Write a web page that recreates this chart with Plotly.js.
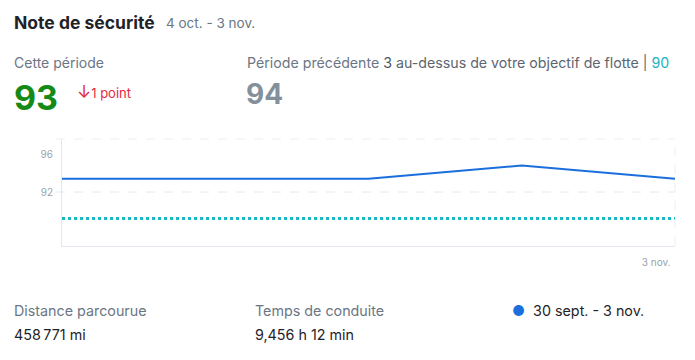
<!DOCTYPE html>
<html><head><meta charset="utf-8">
<script src="https://cdn.plot.ly/plotly-3.0.1.min.js"></script>
<style>html,body{margin:0;padding:0;background:#fff;}#chart{width:695px;height:360px;}</style>
</head><body><div id="chart"></div>
<script>
const dates = ['30 sept.', '7 oct.', '14 oct.', '21 oct.', '3 nov.'];
const scores = [93.4, 93.4, 93.4, 94.8, 93.4];
const goal = [89.2, 89.2, 89.2, 89.2, 89.2];
const yTicks = [92, 96];
const xTickShown = ['3 nov.'];

const F = 'Inter, Roboto, "Noto Sans", sans-serif';
const idx = dates.map((d, i) => i);

const traces = [
  {x: idx, y: goal, mode: 'lines', line: {color: '#19b9c6', width: 3, dash: 'dot'}, hoverinfo: 'skip', showlegend: false},
  {x: idx, y: scores, mode: 'lines', line: {color: '#1a6fdc', width: 2}, showlegend: false}
];

const ann = (x, y, text, size, color, extra) => Object.assign({
  xref: 'paper', yref: 'paper', x: x, y: y, text: text, showarrow: false,
  xanchor: 'left', yanchor: 'middle', font: {family: F, size: size, color: color}
}, extra || {});

// paper coords helpers (plot area: x 62..675, y 139..246 px)
const L = 62, R = 675, T = 139, B = 246;
const px = v => (v - 2 - L) / (R - L);
const py = v => (B - v) / (B - T);
const gx = -6 / (R - L);

const layout = {
  width: 695, height: 360,
  margin: {l: L, r: 695 - R, t: T, b: 360 - B},
  paper_bgcolor: '#fff', plot_bgcolor: '#fff',
  font: {family: F},
  xaxis: {
    range: [0, dates.length - 1], tickmode: 'array',
    tickvals: [dates.length - 1], ticktext: xTickShown,
    ticklabelposition: 'outside left', ticklabelstandoff: 7, ticklabelshift: -4,
    showgrid: false, zeroline: false, showline: true, linecolor: '#e3e6ec', linewidth: 1,
    ticks: '', tickfont: {size: 10, color: '#9aa3ae'}, fixedrange: true
  },
  yaxis: {
    range: [86.3, 97.6], tickmode: 'array', tickvals: yTicks,
    ticktext: yTicks.map(String), ticklabelstandoff: 6,
    showgrid: false, zeroline: false, showline: true, linecolor: '#e3e6ec', linewidth: 1,
    ticks: '', tickfont: {size: 10, color: '#9aa3ae'}, fixedrange: true
  },
  shapes: [
    {type: 'line', xref: 'paper', yref: 'y', x0: gx, x1: 1, y0: 92, y1: 92, line: {color: '#e6e8ec', width: 1, dash: 'dash'}},
    {type: 'line', xref: 'paper', yref: 'paper', x0: gx, x1: 1, y0: 1, y1: 1, line: {color: '#eceef1', width: 1, dash: 'dash'}},
    {type: 'line', xref: 'paper', yref: 'paper', x0: 1, x1: 1, y0: 0, y1: 1, line: {color: '#eceef1', width: 1, dash: 'dash'}}
  ],
  annotations: [
    ann(px(14), py(22), '<b>Note de sécurité</b>', 17.5, '#1f2328'),
    ann(px(166), py(23), '4 oct. - 3 nov.', 13.5, '#6b7684'),
    ann(px(14), py(62), 'Cette période', 14, '#6b7684'),
    ann(px(14), py(97), '<b>93</b>', 34, '#168a16'),
    ann(px(77), py(92), '<span style="font-size:17px">↓</span>1 point', 13, '#e52a3c'),
    ann(px(247), py(62), 'Période précédente <span style="color:#4a5360">3</span> <span style="color:#5b6570">au-dessus de votre objectif de flotte |</span> <span style="color:#19b3c1">90</span>', 14.2, '#6b7684'),
    ann(px(246), py(94), '<b>94</b>', 28, '#848f9c'),
    ann(px(14), py(310), 'Distance parcourue', 14.3, '#6b7684'),
    ann(px(14), py(334), '458\u202f771 mi', 14.3, '#1f2328'),
    ann(px(255), py(310), 'Temps de conduite', 14.3, '#6b7684'),
    ann(px(255), py(334), '9,456 h 12 min', 14.3, '#1f2328'),
    ann(px(512), py(310), '<span style="color:#1a6fdc">●</span>  30 sept. - 3 nov.', 14.3, '#1f2328')
  ]
};

Plotly.newPlot('chart', traces, layout, {displayModeBar: false, staticPlot: true});
</script></body></html>
